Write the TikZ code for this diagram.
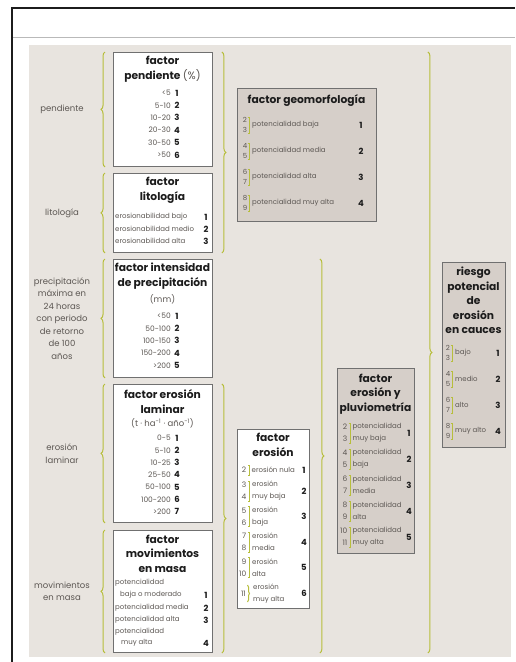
\documentclass[tikz,border=0pt]{standalone}
\usepackage{fontspec}
\setmainfont{Poppins}
\usepackage{tikz}
\usetikzlibrary{decorations.pathreplacing,positioning}
\definecolor{panel}{RGB}{232,228,223}
\definecolor{boxfill}{RGB}{214,207,201}
\definecolor{boxline}{RGB}{112,112,112}
\definecolor{olive}{RGB}{183,190,60}
\definecolor{ink}{RGB}{28,28,28}
\definecolor{soft}{RGB}{92,87,83}

\begin{document}
\begin{tikzpicture}[x=1pt,y=-1pt,
   wbox/.style={draw=boxline,fill=white,line width=0.9pt,anchor=north west,inner sep=0pt},
   gbox/.style={wbox,fill=boxfill},
   ttl/.style={font=\bfseries\fontsize{10.7}{14.5}\selectfont,text=ink,align=center,inner sep=0pt},
   lbl/.style={font=\fontsize{8.5}{12.5}\selectfont,text=soft,align=center,inner sep=0pt},
   rng/.style={font=\fontsize{7.5}{9}\selectfont,text=soft,anchor=east,inner sep=0pt},
   num/.style={font=\bfseries\fontsize{8.5}{10}\selectfont,text=ink,inner sep=0pt},
   sml/.style={font=\fontsize{7}{12}\selectfont,text=soft,anchor=west,align=left,inner sep=0pt},
   digs/.style={font=\fontsize{7}{10}\selectfont,text=soft,align=center,inner sep=0pt},
   digr/.style={font=\fontsize{7.5}{12}\selectfont,text=soft,align=right,anchor=east,inner sep=0pt},
   cbrace/.style={decorate,decoration={brace,amplitude=4pt},draw=olive,line width=1pt},
   sbrk/.style={draw=olive,line width=1pt}]
  \useasboundingbox (0,0) rectangle (515,662);
  \fill[white] (0,0) rectangle (515,662);
  \fill[panel] (29,45) rectangle (511,657);
  \draw[gray!55,line width=0.8pt] (13,37) -- (515,37);
  \draw[ink,line width=2.2pt] (12,662) -- (12,8) -- (515,8);

  % input factors
  \node[wbox,minimum width=99pt,minimum height=114pt] (pend) at (113,52) {};
  \node[wbox,minimum width=99pt,minimum height=79pt] (lito) at (113,173) {};
  \node[wbox,minimum width=99pt,minimum height=118pt] (prec) at (113,259) {};
  \node[wbox,minimum width=99pt,minimum height=138pt] (lam) at (113,384) {};
  \node[wbox,minimum width=99pt,minimum height=122pt] (mov) at (113,530) {};
  % derived factors
  \node[gbox,minimum width=139pt,minimum height=133pt] (geo) at (237,88) {};
  \node[wbox,minimum width=72pt,minimum height=179pt] (ero) at (237,429) {};
  \node[gbox,minimum width=77pt,minimum height=185pt] (pluv) at (337,368) {};
  \node[gbox,minimum width=63pt,minimum height=185pt] (ries) at (442,262) {};

  % left labels
  \coordinate (lblx) at (62,0);
  \node[lbl] (lpend) at (pend -| lblx) {pendiente};
  \node[lbl] (llito) at (lito -| lblx) {litología};
  \node[lbl] (lprec) at (prec -| lblx) {precipitación\\máxima en\\24 horas\\con periodo\\de retorno\\de 100\\años};
  \node[lbl] (llam) at (lam -| lblx) {erosión\\laminar};
  \node[lbl] (lmov) at (mov -| lblx) {movimientos\\en masa};
  \foreach \b in {pend,lito,prec,lam,mov}
    \draw[cbrace] ([xshift=-8pt]\b.south west) -- ([xshift=-8pt]\b.north west);

  % braces
  \draw[cbrace] ([xshift=9pt]pend.north east) -- ([xshift=9pt]lito.south east);
  \draw[cbrace] ([xshift=9pt]lam.north east) -- ([xshift=9pt]mov.south east);
  \coordinate (b3) at ([xshift=10pt]ero.east);
  \draw[cbrace] (b3 |- prec.north) -- (b3 |- mov.south);
  \coordinate (b4) at ([xshift=13pt]pluv.east);
  \draw[cbrace] (b4 |- pend.north) -- (b4 |- mov.south);

  % factor pendiente
  \node[ttl] (tpend) at (162.5,69) {factor\\pendiente {\mdseries\color{soft}(\%)}};
  \foreach \v/\n [count=\i] in {<5/1,5-10/2,10-20/3,20-30/4,30-50/5,>50/6}{
    \node[rng] (pv\i) at (171,{93+12.4*(\i-1)}) {\v};
    \node[num] (pn\i) at (177,{93+12.4*(\i-1)}) {\n};
  }

  % factor litologia
  \node[ttl] (tlito) at (162.5,190.5) {factor\\litología};
  \foreach \t/\n [count=\i] in {erosionabilidad bajo/1,erosionabilidad medio/2,erosionabilidad alta/3}{
    \node[sml] (lt\i) at (115,{217+12*(\i-1)}) {\t};
    \node[num] (ln\i) at (206,{217+12*(\i-1)}) {\n};
  }

  % factor precipitacion
  \node[ttl] (tprec) at (162.5,276) {factor intensidad\\de precipitación};
  \node[lbl] (mm) at (162.5,299) {(mm)};
  \foreach \v/\n [count=\i] in {<50/1,50-100/2,100-150/3,150-200/4,>200/5}{
    \node[rng] (rv\i) at (171,{316+12.4*(\i-1)}) {\v};
    \node[num] (rn\i) at (177,{316+12.4*(\i-1)}) {\n};
  }

  % factor erosion laminar
  \node[ttl] (tlam) at (162.5,401.5) {factor erosión\\laminar};
  \node[lbl] (unit) at (162.5,423) {(t · ha\textsuperscript{-1} · año\textsuperscript{-1})};
  \foreach \v/\n [count=\i] in {0-5/1,5-10/2,10-25/3,25-50/4,50-100/5,100-200/6,>200/7}{
    \node[rng] (av\i) at (171,{438+12.3*(\i-1)}) {\v};
    \node[num] (an\i) at (177,{438+12.3*(\i-1)}) {\n};
  }

  % factor movimientos en masa
  \node[ttl] (tmov) at (162.5,553.5) {factor\\movimientos\\en masa};
  \node[sml] (mt1) at (115,583) {potencialidad};
  \node[sml] (mt2) at (120,595) {baja o moderado};
  \node[sml] (mt3) at (115,608) {potencialidad media};
  \node[sml] (mt4) at (115,620) {potencialidad alta};
  \node[sml] (mt5) at (115,632) {potencialidad};
  \node[sml] (mt6) at (121,643) {muy alta};
  \foreach \n/\y in {1/595,2/608,3/620,4/643}
    \node[num] (mn\n) at (206,\y) {\n};

  % factor geomorfologia
  \node[ttl] (tgeo) at (306.5,101) {factor geomorfología};
  \foreach \a/\b/\t/\n [count=\i] in {2/3/potencialidad baja/1,4/5/potencialidad media/2,6/7/potencialidad alta/3,8/9/potencialidad muy alta/4}{
    \pgfmathsetmacro\yy{125+26*(\i-1)}
    \node[digs] (gd\i) at (245,\yy) {\a\\\b};
    \draw[sbrk] (247.5,\yy-8) -- (249,\yy-8) -- (249,\yy+8) -- (247.5,\yy+8);
    \node[sml] (gt\i) at (252,\yy) {\t};
    \node[num] (gn\i) at (361,\yy) {\n};
  }

  % factor erosion
  \node[ttl] (tero) at (273,445) {factor\\erosión};
  \node[digr] (ed1) at (246.5,470) {2};
  \draw[sbrk] (248,465) -- (249,465) -- (249,475) -- (248,475);
  \node[sml] (et1) at (251.5,470) {erosión nula};
  \node[num] (en1) at (304,470) {1};
  \foreach \a/\b/\t/\n [count=\i] in {3/4/muy baja/2,5/6/baja/3,7/8/media/4,9/10/alta/5}{
    \pgfmathsetmacro\yy{491+25.5*(\i-1)}
    \node[digr] (ed\n) at (246.5,\yy) {\a\\\b};
    \draw[sbrk] (248,\yy-10) -- (249.5,\yy-10) -- (249.5,\yy+10) -- (248,\yy+10);
    \node[sml] (et\n) at (252,\yy) {erosión\\\t};
    \node[num] (en\n) at (304,\yy) {\n};
  }
  \node[digr] (ed6) at (246,593.5) {11};
  \draw[sbrk,decorate,decoration={brace,amplitude=2pt}] (247.5,585) -- (247.5,602);
  \node[sml] (et6) at (253,593.5) {erosión\\muy alta};
  \node[num] (en6) at (304,593.5) {6};

  % factor erosion y pluviometria
  \node[ttl] (tpluv) at (375.5,394) {factor\\erosión y\\pluviometría};
  \foreach \a/\b/\t/\n [count=\i] in {2/3/muy baja/1,4/5/baja/2,6/7/media/3,8/9/alta/4,10/11/muy alta/5}{
    \pgfmathsetmacro\yy{433+26*(\i-1)}
    \node[digr] (pd\i) at (347.5,\yy) {\a\\\b};
    \draw[sbrk] (348.5,\yy-10) -- (350,\yy-10) -- (350,\yy+10) -- (348.5,\yy+10);
    \node[sml] (pt\i) at (352.5,\yy) {potencialidad\\\t};
    \node[num] (pn\i) at (409,\yy) {\n};
  }

  % riesgo potencial
  \node[ttl] (tries) at (473.5,300.5) {riesgo\\potencial\\de\\erosión\\en cauces};
  \foreach \a/\b/\t/\n [count=\i] in {2/3/bajo/1,4/5/medio/2,6/7/alto/3,8/9/muy alto/4}{
    \pgfmathsetmacro\yy{353+26*(\i-1)}
    \node[digs] (qd\i) at (448,\yy) {\a\\\b};
    \draw[sbrk] (450.5,\yy-8) -- (452,\yy-8) -- (452,\yy+8) -- (450.5,\yy+8);
    \node[sml] (qt\i) at (455,\yy) {\t};
    \node[num] (qn\i) at (498,\yy) {\n};
  }
\end{tikzpicture}
\end{document}
